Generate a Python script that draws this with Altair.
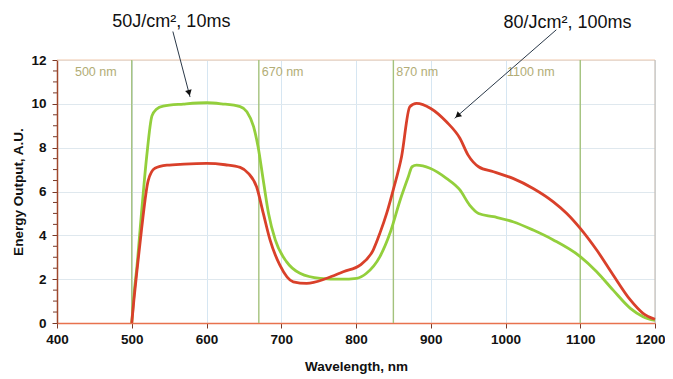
import altair as alt
import pandas as pd

# --- data ---
green_nm = [500, 503, 507, 513, 520, 527, 533, 542, 569, 600, 620, 645, 654, 663, 669, 676,
            683, 692, 707, 725, 752, 780, 801, 814, 832, 846, 859, 870, 875, 881, 899, 921,
            939, 952, 964, 984, 1010, 1037, 1064, 1100, 1122, 1144, 1167, 1184, 1200]
green_val = [0.0, 1.3, 2.6, 5.0, 7.6, 9.45, 9.75, 9.9, 9.99, 10.05, 10.0, 9.87, 9.64, 8.96, 8.04, 6.5,
             5.0, 3.79, 2.8, 2.27, 2.04, 2.0, 2.04, 2.27, 3.03, 4.15, 5.6, 6.67, 7.13, 7.2, 7.06, 6.6,
             6.07, 5.38, 5.0, 4.85, 4.62, 4.24, 3.79, 3.03, 2.34, 1.5, 0.67, 0.29, 0.12]

red_nm = [500, 503, 507, 513, 522, 531, 547, 570, 600, 625, 645, 656, 667, 676, 685, 698,
          716, 734, 761, 783, 806, 823, 832, 841, 850, 861, 872, 881, 900, 921, 939, 950,
          964, 984, 1010, 1037, 1064, 1082, 1100, 1122, 1144, 1167, 1184, 1200]
red_val = [0.0, 1.1, 2.4, 4.24, 6.5, 7.06, 7.2, 7.25, 7.28, 7.22, 7.1, 6.83, 6.22, 5.0, 3.79, 2.65,
           1.88, 1.81, 2.04, 2.34, 2.65, 3.33, 4.1, 5.0, 6.1, 7.6, 9.87, 10.02, 9.79, 9.18, 8.43, 7.66,
           7.13, 6.9, 6.6, 6.14, 5.53, 5.0, 4.32, 3.33, 2.19, 1.05, 0.44, 0.17]

marker_nm = [500, 670, 850, 1100]
marker_labels = ["500 nm", "670 nm", "870 nm", "1100 nm"]
marker_label_nm = [424, 674, 854, 1002]

x_ticks = [400, 500, 600, 700, 800, 900, 1000, 1100, 1200]
y_ticks = [0, 2, 4, 6, 8, 10, 12]
y_minor = [v / 2 for v in range(0, 25) if v % 4 != 0]

ann_text = ["50J/cm\u00b2, 10ms", "80/Jcm\u00b2, 100ms"]
ann_text_nm = [553, 1083]
ann_text_val = [13.75, 13.7]
arrow_start_nm = [555, 1068]
arrow_start_val = [13.3, 13.38]
arrow_end_nm = [578, 932]
arrow_end_val = [10.31, 9.34]
head_nm = [576.7, 936]
head_val = [10.5, 9.46]
head_angle = [165.6, 228.5]

FONT = "Liberation Sans"

curves = pd.concat([
    pd.DataFrame({"nm": green_nm, "val": green_val, "s": "green"}),
    pd.DataFrame({"nm": red_nm, "val": red_val, "s": "red"}),
])

xs = alt.Scale(domain=[400, 1200], nice=False)
ys = alt.Scale(domain=[0, 12], nice=False)

base_x = alt.X("nm:Q", scale=xs)
base_y = alt.Y("val:Q", scale=ys)

frame = alt.Chart(pd.DataFrame({"nm": [400, 1200], "val": [0, 12]})).mark_point(opacity=0).encode(
    x=alt.X("nm:Q", scale=xs, title="Wavelength, nm",
            axis=alt.Axis(values=x_ticks, format="d", grid=True, gridColor="#d6e6f2", gridWidth=1,
                          domainColor="#e8724e", domainWidth=1.5, tickColor="#7a3a28",
                          tickSize=5, labelPadding=4, labelFont=FONT, labelFontSize=13.5,
                          labelFontWeight="bold", labelColor="#111", titleFont=FONT,
                          titleFontSize=13.5, titleFontWeight="bold", titleColor="#111",
                          titlePadding=14, labelFlush=False,
                          labelAlign={"condition": {"test": "datum.value == 1200", "value": "right"},
                                      "value": "center"},
                          labelOffset={"condition": {"test": "datum.value == 1200", "value": 10},
                                       "value": 0})),
    y=alt.Y("val:Q", scale=ys, title="Energy Output, A.U.",
            axis=alt.Axis(values=y_ticks, format="d", grid=True, gridColor="#dfe8ee", gridWidth=1,
                          domainColor="#a0482c", domainWidth=1.5, tickColor="#7a3a28",
                          tickSize=5, labelPadding=6, labelFont=FONT, labelFontSize=13.5,
                          labelFontWeight="bold", labelColor="#111", titleFont=FONT,
                          titleFontSize=13.5, titleFontWeight="bold", titleColor="#111",
                          titlePadding=5, labelFlush=False)),
)

minor = alt.Chart(pd.DataFrame({"val": y_minor})).mark_rule(color="#7a3a28", strokeWidth=1).encode(
    y=alt.Y("val:Q", scale=ys), x=alt.value(-4), x2=alt.value(0))

top_border = alt.Chart(pd.DataFrame({"val": [12]})).mark_rule(color="#f2c9ae", strokeWidth=1.2).encode(
    y=alt.Y("val:Q", scale=ys), x=alt.value(0), x2=alt.value(598))
right_border = alt.Chart(pd.DataFrame({"nm": [1200]})).mark_rule(color="#c9bfb6", strokeWidth=1.2).encode(
    x=alt.X("nm:Q", scale=xs), y=alt.value(0), y2=alt.value(263))

markers = alt.Chart(pd.DataFrame({"nm": marker_nm})).mark_rule(color="#a4c27c", strokeWidth=1.4).encode(
    x=alt.X("nm:Q", scale=xs), y=alt.value(0), y2=alt.value(263))

marker_text = alt.Chart(pd.DataFrame({"nm": marker_label_nm, "t": marker_labels, "val": [11.45] * 4})).mark_text(
    align="left", baseline="middle", font=FONT, fontSize=12.5, color="#b2ad76").encode(
    x=alt.X("nm:Q", scale=xs), y=alt.Y("val:Q", scale=ys), text="t:N")

lines = alt.Chart(curves).mark_line(strokeWidth=2.8, interpolate="monotone").encode(
    x=base_x, y=base_y,
    color=alt.Color("s:N", scale=alt.Scale(domain=["green", "red"], range=["#93cf3c", "#d9402a"]), legend=None),
    order=alt.Order("nm:Q"), detail="s:N")

ann = pd.DataFrame({"t": ann_text, "nm": ann_text_nm, "val": ann_text_val,
                    "x1": arrow_start_nm, "y1": arrow_start_val, "x2": arrow_end_nm, "y2": arrow_end_val,
                    "hx": head_nm, "hy": head_val, "ang": head_angle})

ann_text_layer = alt.Chart(ann).mark_text(font=FONT, fontSize=18, color="#111", baseline="middle").encode(
    x=alt.X("nm:Q", scale=xs), y=alt.Y("val:Q", scale=ys), text="t:N")

arrows = alt.Chart(ann).mark_rule(color="#2a3848", strokeWidth=1).encode(
    x=alt.X("x1:Q", scale=xs), y=alt.Y("y1:Q", scale=ys), x2="x2:Q", y2="y2:Q")

heads = alt.Chart(ann).mark_point(shape="triangle-up", filled=True, color="#111", size=45, opacity=1).encode(
    x=alt.X("hx:Q", scale=xs), y=alt.Y("hy:Q", scale=ys), angle=alt.Angle("ang:Q", scale=None))

chart = alt.layer(frame, minor, top_border, right_border, markers, marker_text, lines,
                  arrows, heads, ann_text_layer).properties(
    width=598, height=263,
    autosize=alt.AutoSizeParams(type="none"),
    padding={"left": 49, "top": 52, "right": 10, "bottom": 52},
    background="white",
).configure_view(stroke=None)

chart.save("out.html", embed_options={"renderer": "svg", "actions": False})
